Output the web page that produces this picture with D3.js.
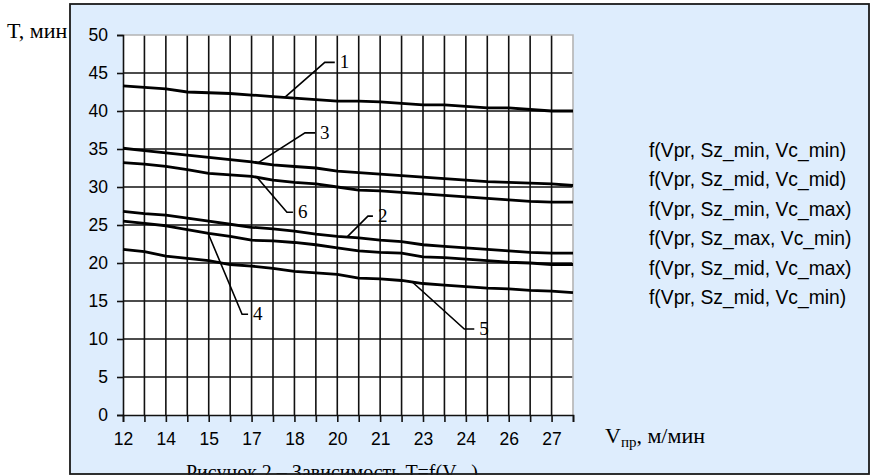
<!DOCTYPE html>
<html>
<head>
<meta charset="utf-8">
<script src="https://cdn.jsdelivr.net/npm/d3@7"></script>
<style>
  body { margin: 0; background: #ffffff; }
  svg { display: block; }
</style>
</head>
<body>
<svg id="chart" width="872" height="475"></svg>
<script>
// Feed speed values (category axis), m/min
const vpr = [12, 12.75, 13.5, 14.25, 15, 15.75, 16.5, 17.25, 18, 18.75, 19.5,
             20.25, 21, 21.75, 22.5, 23.25, 24, 24.75, 25.5, 26.25, 27, 27.75];
// Labels shown under every second category
const xTickLabels = ["12", "14", "15", "17", "18", "20", "21", "23", "24", "26", "27"];
const yTicks = [0, 5, 10, 15, 20, 25, 30, 35, 40, 45, 50];

// Machining time T, min, for each parameter set
const t1 = [43.3, 43.1, 42.9, 42.5, 42.4, 42.3, 42.1, 41.9, 41.7, 41.5, 41.3,
            41.3, 41.2, 41.0, 40.8, 40.8, 40.6, 40.4, 40.4, 40.2, 40.0, 40.0];
const t2 = [26.8, 26.5, 26.3, 25.9, 25.5, 25.1, 24.7, 24.5, 24.2, 23.8, 23.5,
            23.3, 23.0, 22.8, 22.4, 22.2, 22.0, 21.8, 21.6, 21.4, 21.3, 21.3];
const t3 = [35.1, 34.8, 34.5, 34.2, 33.9, 33.6, 33.3, 32.9, 32.7, 32.5, 32.1,
            31.9, 31.7, 31.5, 31.3, 31.1, 30.9, 30.7, 30.6, 30.5, 30.4, 30.2];
const t4 = [25.5, 25.2, 24.9, 24.4, 23.9, 23.5, 23.0, 22.9, 22.7, 22.4, 22.0,
            21.6, 21.4, 21.3, 20.8, 20.7, 20.5, 20.3, 20.1, 20.0, 19.8, 19.8];
const t5 = [21.8, 21.5, 20.9, 20.6, 20.3, 19.8, 19.6, 19.3, 18.9, 18.7, 18.5,
            18.0, 17.9, 17.7, 17.3, 17.1, 16.9, 16.7, 16.6, 16.4, 16.3, 16.1];
const t6 = [33.2, 33.0, 32.7, 32.3, 31.8, 31.6, 31.4, 30.9, 30.6, 30.4, 30.0,
            29.6, 29.5, 29.3, 29.1, 28.9, 28.7, 28.5, 28.3, 28.1, 28.0, 28.0];

const seriesNames = [
  "f(Vpr, Sz_min, Vc_min)",
  "f(Vpr, Sz_mid, Vc_mid)",
  "f(Vpr, Sz_min, Vc_max)",
  "f(Vpr, Sz_max, Vc_min)",
  "f(Vpr, Sz_mid, Vc_max)",
  "f(Vpr, Sz_mid, Vc_min)"
];
const seriesValues = [t1, t2, t3, t4, t5, t6];
const curveNumbers = ["1", "2", "3", "4", "5", "6"];

// Callout leaders: where on the curve (category position) and how the leader runs
const callouts = [
  { s: 0, at: 7.55, dx: 40, dy: -35, stub: 10 },
  { s: 1, at: 10.45, dx: 21, dy: -21, stub: 5 },
  { s: 2, at: 6.3, dx: 47, dy: -30, stub: 10 },
  { s: 3, at: 3.97, dx: 34, dy: 81, stub: 6 },
  { s: 4, at: 13.5, dx: 52, dy: 47, stub: 10 },
  { s: 5, at: 6.25, dx: 30, dy: 35, stub: 6 }
];

const svg = d3.select("#chart");
const SANS = "'Liberation Sans', Arial, sans-serif";
const SERIF = "'Liberation Serif', 'Times New Roman', serif";

const panel = { x: 70, y: 4, w: 799, h: 470 };
const plot = { left: 123, right: 573, top: 35, bottom: 415 };

const x = d3.scaleLinear().domain([vpr[0], vpr[vpr.length - 1]]).range([plot.left, plot.right]);
const y = d3.scaleLinear().domain([0, 50]).range([plot.bottom, plot.top]);

// chart panel background
svg.append("rect")
  .attr("x", panel.x).attr("y", panel.y).attr("width", panel.w).attr("height", panel.h)
  .attr("fill", "#deedfd");

// plot area
svg.append("rect")
  .attr("x", plot.left).attr("y", plot.top)
  .attr("width", plot.right - plot.left).attr("height", plot.bottom - plot.top)
  .attr("fill", "#ffffff");

// grid
const grid = svg.append("g").attr("stroke", "#111").attr("stroke-width", 1.6);
grid.selectAll("line.v").data(vpr.slice(1, -1)).join("line")
  .attr("x1", d => x(d)).attr("x2", d => x(d))
  .attr("y1", plot.top).attr("y2", plot.bottom);
grid.selectAll("line.h").data(yTicks.filter(v => v > 0 && v < 50)).join("line")
  .attr("x1", plot.left).attr("x2", plot.right)
  .attr("y1", d => y(d)).attr("y2", d => y(d));

// plot frame on top and right
svg.append("path")
  .attr("d", `M${plot.left},${plot.top}H${plot.right}V${plot.bottom}`)
  .attr("fill", "none").attr("stroke", "#b4b4b4").attr("stroke-width", 1.6);

// y axis
const yAxis = svg.append("g")
  .attr("transform", `translate(${plot.left},0)`)
  .call(d3.axisLeft(y).tickValues(yTicks).tickSize(6).tickPadding(9).tickFormat(d3.format("d")));
yAxis.select(".domain").attr("stroke", "#111").attr("stroke-width", 1.6);
yAxis.selectAll(".tick line").attr("stroke", "#111").attr("stroke-width", 1.6);
yAxis.selectAll("text").attr("font-family", SANS).attr("font-size", 17.5).attr("fill", "#000");

// x axis: a tick at every category, a label at every second one
const xAxis = svg.append("g")
  .attr("transform", `translate(0,${plot.bottom})`)
  .call(d3.axisBottom(x).tickValues(vpr).tickSize(7).tickPadding(11)
    .tickFormat((d, i) => (i % 2 === 0 ? xTickLabels[i / 2] : "")));
xAxis.select(".domain").attr("stroke", "#111").attr("stroke-width", 1.6);
xAxis.selectAll(".tick line").attr("stroke", "#111").attr("stroke-width", 1.6);
xAxis.selectAll("text").attr("font-family", SANS).attr("font-size", 17.5).attr("fill", "#000");

// curves
const line = d3.line().x((d, i) => x(vpr[i])).y(d => y(d));
svg.append("g").selectAll("path").data(seriesValues).join("path")
  .attr("d", line)
  .attr("fill", "none").attr("stroke", "#000").attr("stroke-width", 2.8)
  .attr("stroke-linejoin", "round");

// numbered callouts
function valueAt(vals, pos) {
  const i = Math.floor(pos), f = pos - i;
  const a = vals[i], b = vals[Math.min(i + 1, vals.length - 1)];
  return a + (b - a) * f;
}
function vprAt(pos) {
  const i = Math.floor(pos), f = pos - i;
  return vpr[i] + (vpr[Math.min(i + 1, vpr.length - 1)] - vpr[i]) * f;
}
const co = svg.append("g");
callouts.forEach(c => {
  const ax = x(vprAt(c.at)), ay = y(valueAt(seriesValues[c.s], c.at));
  const ex = ax + c.dx, ey = ay + c.dy;
  co.append("path")
    .attr("d", `M${ax},${ay}L${ex},${ey}H${ex + c.stub}`)
    .attr("fill", "none").attr("stroke", "#000").attr("stroke-width", 1.6);
  co.append("text")
    .attr("x", ex + c.stub + 5).attr("y", ey + 6)
    .attr("font-family", SERIF).attr("font-size", 19).attr("fill", "#000")
    .text(curveNumbers[c.s]);
});

// legend
svg.append("g").selectAll("text").data(seriesNames).join("text")
  .attr("x", 649).attr("y", (d, i) => 156.5 + i * 29.5)
  .attr("font-family", SANS).attr("font-size", 19.3).attr("fill", "#000")
  .text(d => d);

// axis titles
svg.append("text")
  .attr("x", 7).attr("y", 38)
  .attr("font-family", SERIF).attr("font-size", 22).attr("fill", "#000")
  .text("T, мин");

const vt = svg.append("text")
  .attr("x", 605).attr("y", 443)
  .attr("font-family", SERIF).attr("font-size", 22).attr("fill", "#000");
vt.append("tspan").text("V");
vt.append("tspan").attr("font-size", 15).attr("dy", 4).text("пр");
vt.append("tspan").attr("dy", -4).text(", м/мин");

// figure caption
const cap = svg.append("text")
  .attr("x", 186).attr("y", 479)
  .attr("font-family", SERIF).attr("font-size", 20).attr("fill", "#000");
cap.append("tspan").text("Рисунок 2 – Зависимость T=f(V");
cap.append("tspan").attr("font-size", 14).attr("dy", 4).text("пр");
cap.append("tspan").attr("dy", -4).text(")");

// panel border
svg.append("rect")
  .attr("x", panel.x).attr("y", panel.y).attr("width", panel.w).attr("height", panel.h)
  .attr("fill", "none").attr("stroke", "#1a1a1a").attr("stroke-width", 1.8);
</script>
</body>
</html>
